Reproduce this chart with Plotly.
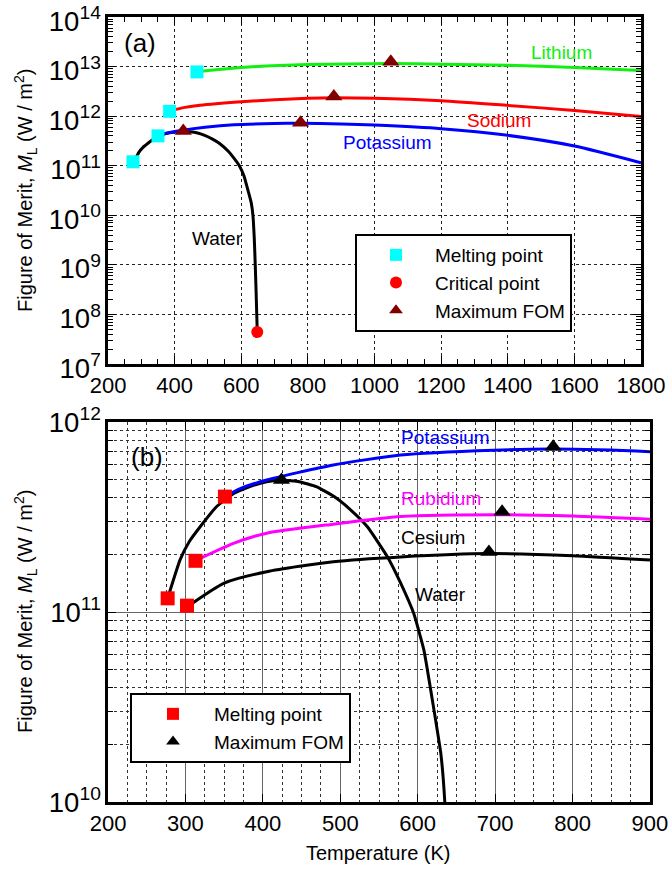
import plotly.graph_objects as go

# ---------------- data ----------------
# Water (shared by both panels)
water_T = [277, 293, 305, 319, 340, 362, 385, 405, 425, 447, 469, 492, 515, 535, 561, 578, 595, 608, 621, 630, 635, 639, 642, 644.5, 646.5, 648]
water_M = [1.18e11, 1.88e11, 2.35e11, 2.81e11, 3.58e11, 4.2e11, 4.6e11, 4.85e11, 4.95e11, 4.85e11, 4.57e11, 4.05e11, 3.4e11, 2.81e11, 1.95e11, 1.42e11, 9.8e10, 6.3e10, 3.05e10, 1.78e10, 1.0e10, 3.5e9, 1.0e9, 3.0e8, 1.0e8, 4.4e7]

# Potassium
k_T = [351, 370, 405, 491, 578, 698, 775, 900, 1000, 1200, 1400, 1600, 1800]
k_M = [4.05e11, 4.45e11, 4.95e11, 5.94e11, 6.7e11, 7.1e11, 7.2e11, 6.98e11, 6.6e11, 5.6e11, 4.1e11, 2.5e11, 1.15e11]

# Sodium
na_T = [385, 420, 476, 600, 700, 800, 878, 1000, 1200, 1400, 1600, 1800]
na_M = [1.25e12, 1.45e12, 1.65e12, 1.95e12, 2.15e12, 2.3e12, 2.35e12, 2.3e12, 2.05e12, 1.65e12, 1.3e12, 9.8e11]

# Lithium
li_T = [467, 500, 600, 800, 1049, 1200, 1400, 1600, 1800]
li_M = [7.8e12, 8.3e12, 9.6e12, 1.1e13, 1.15e13, 1.12e13, 1.06e13, 9.6e12, 8.3e12]

# Rubidium
rb_T = [317, 362, 405, 491, 578, 707, 800, 900]
rb_M = [1.9e11, 2.3e11, 2.6e11, 2.9e11, 3.18e11, 3.25e11, 3.2e11, 3.08e11]

# Cesium
cs_T = [310, 350, 405, 491, 578, 692, 800, 900]
cs_M = [1.12e11, 1.42e11, 1.63e11, 1.84e11, 1.95e11, 2.03e11, 1.98e11, 1.88e11]

# Panel (a) markers
a_melt_T = [275, 350, 385, 467]
a_melt_M = [1.2e11, 4.0e11, 1.25e12, 7.8e12]
a_crit_T = [648]
a_crit_M = [4.4e7]
a_max_T = [426, 778, 878, 1049]
a_max_M = [5.0e11, 7.4e11, 2.5e12, 1.25e13]

# Panel (b) markers
b_melt_T = [277, 302, 313, 351]
b_melt_M = [1.18e11, 1.08e11, 1.86e11, 4.05e11]
b_max_T = [424, 692, 709, 775]
b_max_M = [4.95e11, 2.07e11, 3.37e11, 7.4e11]

# axis tick values
a_x_ticks = [200, 400, 600, 800, 1000, 1200, 1400, 1600, 1800]
b_x_ticks = [200, 300, 400, 500, 600, 700, 800, 900]

FONT = "Liberation Sans, Arial, sans-serif"
fig = go.Figure()

def line(x, y, color, xa, ya, smoothing=0.6):
    fig.add_trace(go.Scatter(x=x, y=y, mode="lines", line=dict(color=color, width=3, shape="spline", smoothing=smoothing),
                             xaxis=xa, yaxis=ya, showlegend=False, hoverinfo="skip"))

# panel (a)
line(water_T, water_M, "black", "x", "y", 0.4)
line(k_T, k_M, "#0000ff", "x", "y")
line(na_T, na_M, "#ff0000", "x", "y")
line(li_T, li_M, "#11ee11", "x", "y")
fig.add_trace(go.Scatter(x=a_melt_T, y=a_melt_M, mode="markers", name="Melting point",
                         marker=dict(symbol="square", size=13, color="#00ffff"), xaxis="x", yaxis="y", legend="legend"))
fig.add_trace(go.Scatter(x=a_crit_T, y=a_crit_M, mode="markers", name="Critical point",
                         marker=dict(symbol="circle", size=12, color="#ff0000"), xaxis="x", yaxis="y", legend="legend"))
fig.add_trace(go.Scatter(x=a_max_T, y=a_max_M, mode="markers", name="Maximum FOM",
                         marker=dict(symbol="triangle-up", size=15, color="#800000"), xaxis="x", yaxis="y", legend="legend"))

# panel (b)
line(water_T, water_M, "black", "x2", "y2", 0.4)
line(k_T, k_M, "#0000ff", "x2", "y2")
line(rb_T, rb_M, "#ff00ff", "x2", "y2")
line(cs_T, cs_M, "black", "x2", "y2")
fig.add_trace(go.Scatter(x=b_melt_T, y=b_melt_M, mode="markers", name="Melting point",
                         marker=dict(symbol="square", size=14, color="#ff0000"), xaxis="x2", yaxis="y2", legend="legend2"))
fig.add_trace(go.Scatter(x=b_max_T, y=b_max_M, mode="markers", name="Maximum FOM",
                         marker=dict(symbol="triangle-up", size=15, color="black"), xaxis="x2", yaxis="y2", legend="legend2"))

W, H = 668, 869
EPS = 1e-4
ytitle = "Figure of Merit, <i>M</i><sub>L</sub> (W / m<sup>2</sup>)"
axis_common = dict(showline=True, linecolor="black", linewidth=2.5, mirror="allticks", ticks="inside", automargin=False,
                   ticklabeloverflow="allow", tickcolor="black", tickfont=dict(family=FONT, size=22, color="black"),
                   zeroline=False)

fig.update_layout(
    width=W, height=H, margin=dict(l=0, r=0, t=0, b=0),
    paper_bgcolor="white", plot_bgcolor="white",
    font=dict(family=FONT, color="black"),
    xaxis=dict(domain=[108 / W, 641 / W], anchor="y", range=[200 - 0.05, 1800 + 0.05], tickmode="array", tickvals=a_x_ticks,
               ticklen=8, showgrid=True, gridcolor="#222", griddash="dot", gridwidth=1,
               minor=dict(ticks="inside", dtick=50, tick0=200, ticklen=5, tickcolor="black", showgrid=False), **axis_common),
    yaxis=dict(domain=[1 - 364 / H, 1 - 17 / H], anchor="x", type="log", range=[7 - EPS, 14 + EPS], tickmode="linear", tick0=0, dtick=1,
               exponentformat="power", ticklen=8, showgrid=True, gridcolor="#222", griddash="dot", gridwidth=1, ticklabelshift=4,
               minor=dict(ticks="inside", dtick="D1", ticklen=5, tickcolor="black", showgrid=False), **axis_common),
    xaxis2=dict(domain=[108 / W, 650 / W], anchor="y2", range=[200 - 0.05, 900 + 0.05], tickmode="array", tickvals=b_x_ticks,
                ticklen=8, showgrid=True, gridcolor="#666", gridwidth=1,
                minor=dict(ticks="inside", dtick=25, tick0=200, ticklen=0, showgrid=True, gridcolor="#333", griddash="dot", gridwidth=1),
                **axis_common),
    yaxis2=dict(domain=[1 - 802 / H, 1 - 422 / H], anchor="x2", type="log", range=[10 - EPS, 12 + EPS], tickmode="linear", tick0=0, dtick=1,
                exponentformat="power", ticklen=8, showgrid=True, gridcolor="#666", gridwidth=1,
                minor=dict(ticks="inside", dtick="D1", ticklen=5, tickcolor="black", showgrid=True, gridcolor="#333", griddash="dot", gridwidth=1),
                **axis_common),
    legend=dict(x=355 / W, y=1 - 234 / H, xanchor="left", yanchor="top", bgcolor="white", bordercolor="black", borderwidth=2,
                font=dict(family=FONT, size=19, color="black"), itemsizing="constant", tracegroupgap=0, itemwidth=68),
    legend2=dict(x=130 / W, y=1 - 693 / H, xanchor="left", yanchor="top", bgcolor="white", bordercolor="black", borderwidth=2,
                 font=dict(family=FONT, size=19, color="black"), itemsizing="constant", tracegroupgap=0, itemwidth=72),
    showlegend=True,
)

# axis titles (paper coordinates)
fig.add_annotation(text=ytitle, x=25 / W, y=1 - 191 / H, xref="paper", yref="paper", textangle=-90, showarrow=False,
                   xanchor="center", yanchor="middle", font=dict(family=FONT, size=20, color="black"))
fig.add_annotation(text=ytitle, x=25 / W, y=1 - 612 / H, xref="paper", yref="paper", textangle=-90, showarrow=False,
                   xanchor="center", yanchor="middle", font=dict(family=FONT, size=20, color="black"))
fig.add_annotation(text="Temperature (K)", x=379 / W, y=1 - 853 / H, xref="paper", yref="paper", showarrow=False,
                   xanchor="center", yanchor="middle", font=dict(family=FONT, size=20, color="black"))

def label(text, x, ylog, color, xa, ya, size=19):
    fig.add_annotation(text=text, x=x, y=ylog, xref=xa, yref=ya, showarrow=False,
                       font=dict(family=FONT, size=size, color=color))

label("(a)", 296, 13.48, "black", "x", "y", 26)
label("Lithium", 1560, 13.29, "#11ee11", "x", "y")
label("Sodium", 1374, 11.92, "#ff0000", "x", "y")
label("Potassium", 1038, 11.46, "#0000ff", "x", "y")
label("Water", 530, 9.54, "black", "x", "y")
label("(b)", 250, 11.816, "black", "x2", "y2", 26)
label("Potassium", 636, 11.921, "#0000ff", "x2", "y2")
label("Rubidium", 630, 11.6, "#ff00ff", "x2", "y2")
label("Cesium", 620, 11.39, "black", "x2", "y2")
label("Water", 630, 11.09, "black", "x2", "y2")

fig.write_html("out.html")
